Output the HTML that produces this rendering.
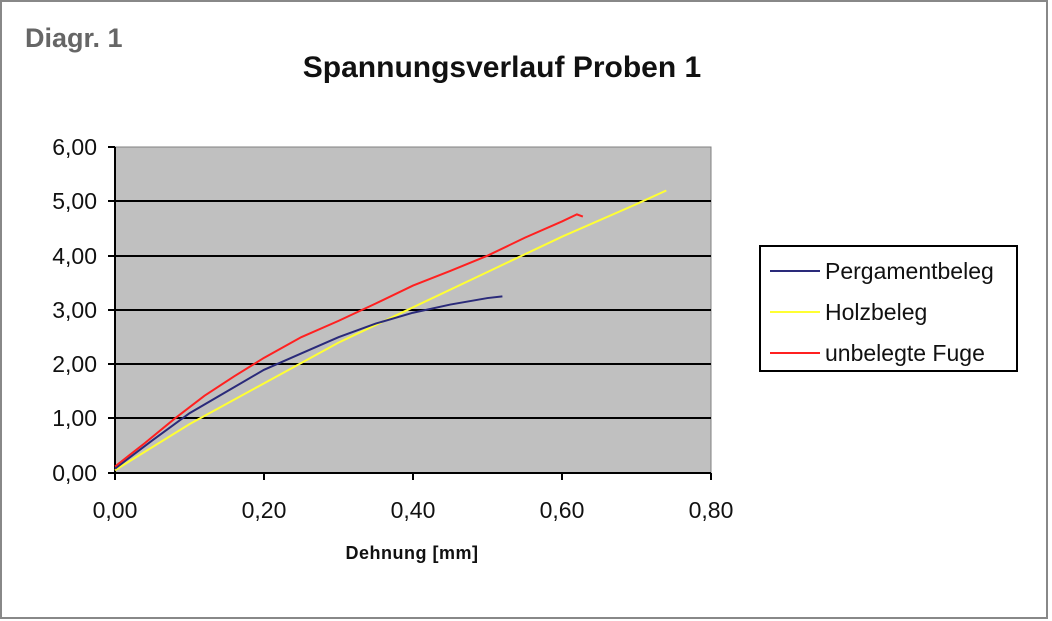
<!DOCTYPE html>
<html><head><meta charset="utf-8"><style>
html,body{margin:0;padding:0;background:#fff}
svg{display:block;font-family:"Liberation Sans",Arial,sans-serif}
</style></head><body>
<svg width="1052" height="621" viewBox="0 0 1052 621" xmlns="http://www.w3.org/2000/svg">
<rect x="1" y="1" width="1046" height="617" fill="#fff" stroke="#888" stroke-width="2"/>
<text x="25" y="47" font-size="27" font-weight="bold" fill="#666">Diagr. 1</text>
<text x="502" y="77" font-size="30" font-weight="bold" text-anchor="middle" fill="#111">Spannungsverlauf Proben 1</text>
<rect x="115" y="147" width="596" height="326" fill="#c0c0c0" stroke="#808080" stroke-width="1"/>
<g stroke="#000" stroke-width="2">
<line x1="115" y1="201" x2="711" y2="201"/>
<line x1="115" y1="256" x2="711" y2="256"/>
<line x1="115" y1="310" x2="711" y2="310"/>
<line x1="115" y1="364" x2="711" y2="364"/>
<line x1="115" y1="418" x2="711" y2="418"/>
<line x1="115" y1="473" x2="711" y2="473"/>
<line x1="115" y1="147" x2="115" y2="473"/>
<line x1="108" y1="147" x2="115" y2="147"/><line x1="108" y1="201" x2="115" y2="201"/><line x1="108" y1="256" x2="115" y2="256"/><line x1="108" y1="310" x2="115" y2="310"/><line x1="108" y1="364" x2="115" y2="364"/><line x1="108" y1="418" x2="115" y2="418"/><line x1="108" y1="473" x2="115" y2="473"/>
<line x1="115" y1="473" x2="115" y2="480"/><line x1="264" y1="473" x2="264" y2="480"/><line x1="413" y1="473" x2="413" y2="480"/><line x1="562" y1="473" x2="562" y2="480"/><line x1="711" y1="473" x2="711" y2="480"/>
</g>
<g font-size="23" fill="#111" text-anchor="end">
<text x="97" y="155">6,00</text><text x="97" y="209">5,00</text><text x="97" y="264">4,00</text><text x="97" y="318">3,00</text><text x="97" y="372">2,00</text><text x="97" y="426">1,00</text><text x="97" y="481">0,00</text>
</g>
<g font-size="23" fill="#111" text-anchor="middle">
<text x="115" y="518">0,00</text><text x="264" y="518">0,20</text><text x="413" y="518">0,40</text><text x="562" y="518">0,60</text><text x="711" y="518">0,80</text>
</g>
<text x="412" y="559" font-size="18" font-weight="bold" text-anchor="middle" fill="#111" letter-spacing="0.5">Dehnung [mm]</text>
<g transform="translate(115,473) scale(745,-54.33)" fill="none">
<polyline vector-effect="non-scaling-stroke" stroke="#ffff33" stroke-width="2" points="0,0.05 0.1,0.9 0.2,1.65 0.3,2.4 0.4,3.05 0.5,3.7 0.6,4.35 0.7,4.95 0.74,5.2"/>
<polyline vector-effect="non-scaling-stroke" stroke="#2a2a7a" stroke-width="2" points="0,0.08 0.05,0.6 0.1,1.1 0.15,1.5 0.2,1.9 0.25,2.2 0.3,2.5 0.35,2.75 0.4,2.95 0.45,3.1 0.5,3.22 0.52,3.25"/>
<polyline vector-effect="non-scaling-stroke" stroke="#ff2020" stroke-width="2" points="0,0.12 0.04,0.55 0.08,1.0 0.12,1.42 0.16,1.78 0.2,2.12 0.25,2.5 0.3,2.8 0.35,3.12 0.4,3.45 0.45,3.72 0.5,4.0 0.55,4.33 0.6,4.63 0.62,4.76 0.628,4.72"/>
</g>
<rect x="760" y="246" width="257" height="125" fill="#fff" stroke="#000" stroke-width="2"/>
<g stroke-width="2">
<line x1="770" y1="271" x2="820" y2="271" stroke="#2a2a7a"/>
<line x1="770" y1="312" x2="820" y2="312" stroke="#ffff33"/>
<line x1="770" y1="353" x2="820" y2="353" stroke="#ff2020"/>
</g>
<g font-size="23" fill="#111">
<text x="825" y="279">Pergamentbeleg</text>
<text x="825" y="320">Holzbeleg</text>
<text x="825" y="361">unbelegte Fuge</text>
</g>
</svg>
</body></html>
